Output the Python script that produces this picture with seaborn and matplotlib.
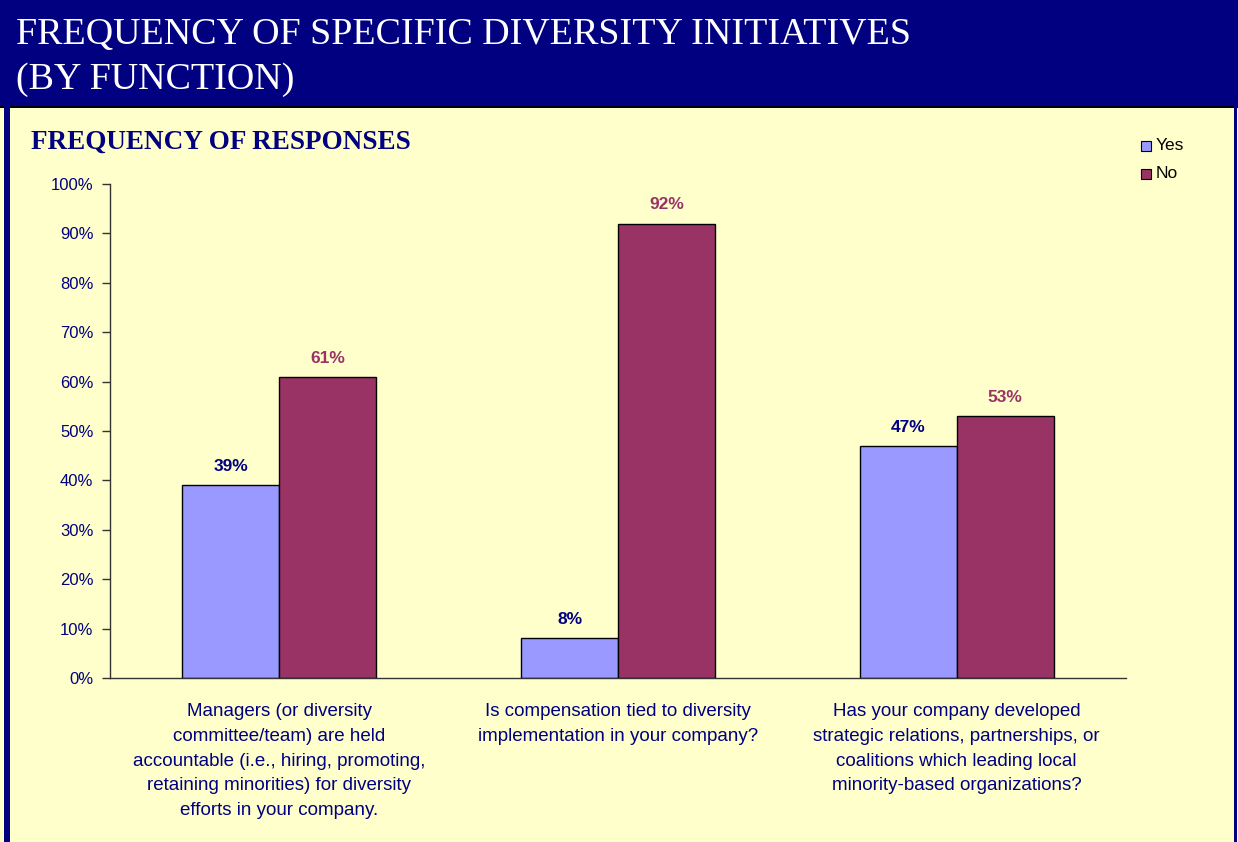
import matplotlib
matplotlib.use("Agg")
import matplotlib.pyplot as plt
from matplotlib.patches import Rectangle
import pandas as pd
import seaborn as sns

questions = [
    "Managers (or diversity\ncommittee/team) are held\naccountable (i.e., hiring, promoting,\nretaining minorities) for diversity\nefforts in your company.",
    "Is compensation tied to diversity\nimplementation in your company?",
    "Has your company developed\nstrategic relations, partnerships, or\ncoalitions which leading local\nminority-based organizations?",
]
yes_pct = [39, 8, 47]
no_pct = [61, 92, 53]
series = ["Yes", "No"]
y_ticks = [0, 10, 20, 30, 40, 50, 60, 70, 80, 90, 100]

NAVY = "#000080"
BG = "#FFFFCC"
palette = {"Yes": "#9999FF", "No": "#993366"}
label_colors = {"Yes": NAVY, "No": "#993366"}

df = pd.DataFrame({
    "question": questions * 2,
    "response": ["Yes"] * 3 + ["No"] * 3,
    "pct": yes_pct + no_pct,
})

sns.set_theme(style="white")
plt.rcParams["font.family"] = ["Liberation Sans", "DejaVu Sans"]

fig = plt.figure(figsize=(12.38, 8.42), dpi=100, facecolor=BG)

# header band and page frame
fig.patches.append(Rectangle((0, 1 - 107 / 842), 1, 107 / 842, transform=fig.transFigure,
                             facecolor=NAVY, edgecolor="none", zorder=0))
fig.patches.append(Rectangle((0, 1 - 108 / 842), 1, 1.6 / 842, transform=fig.transFigure,
                             facecolor="black", edgecolor="none", zorder=1))
fig.patches.append(Rectangle((4 / 1238, 0), 6 / 1238, 1, transform=fig.transFigure,
                             facecolor=NAVY, edgecolor="none", zorder=1))
fig.patches.append(Rectangle((1234 / 1238, 0), 3 / 1238, 1, transform=fig.transFigure,
                             facecolor=NAVY, edgecolor="none", zorder=1))

serif = ["Liberation Serif", "DejaVu Serif"]
fig.text(16 / 1238, 1 - 35 / 842, "FREQUENCY OF SPECIFIC DIVERSITY INITIATIVES",
         color="white", fontsize=27.4, family=serif, va="center", ha="left")
fig.text(16 / 1238, 1 - 80 / 842, "(BY FUNCTION)",
         color="white", fontsize=27.4, family=serif, va="center", ha="left")
fig.text(31 / 1238, 1 - 142 / 842, "FREQUENCY OF RESPONSES",
         color=NAVY, fontsize=19.5, fontweight="bold", family=serif,
         va="center", ha="left")

ax = fig.add_axes([110 / 1238, 1 - 678 / 842, (1126 - 110) / 1238, (678 - 184) / 842])
ax.set_facecolor(BG)

sns.barplot(data=df, x="question", y="pct", hue="response", hue_order=series,
            palette=palette, width=0.572, edgecolor="black", linewidth=1.0,
            saturation=1, ax=ax, legend=False)

ax.set_ylim(0, 100)
ax.set_xlim(-0.5, 2.5)
ax.set_yticks(y_ticks)
ax.set_yticklabels([f"{v}%" for v in y_ticks], color=NAVY, fontsize=12)
ax.set_xlabel("")
ax.set_ylabel("")
ax.set_xticks(range(len(questions)))
ax.set_xticklabels(questions, color=NAVY, fontsize=13.5, linespacing=1.6)
ax.tick_params(axis="x", which="major", length=0, pad=18)
ax.set_xticks([-0.5, 0.5, 1.5, 2.5], minor=True)
ax.tick_params(axis="x", which="minor", length=6, width=1, color="#333333", direction="out")
ax.tick_params(axis="y", length=6, width=1, color="#333333", direction="out", pad=6, left=True)
for side in ["top", "right"]:
    ax.spines[side].set_visible(False)
for side in ["left", "bottom"]:
    ax.spines[side].set_color("#333333")
    ax.spines[side].set_linewidth(1.0)
ax.grid(False)

for container, name in zip(ax.containers, series):
    ax.bar_label(container, labels=[f"{v:.0f}%" for v in container.datavalues],
                 padding=8, color=label_colors[name], fontsize=12.5, fontweight="bold")

# legend
for i, name in enumerate(series):
    y = 1 - (146 + 28 * i) / 842
    fig.patches.append(Rectangle((1141 / 1238, y - 5 / 842), 10 / 1238, 10 / 842,
                                 transform=fig.transFigure, facecolor=palette[name],
                                 edgecolor="black", linewidth=0.8, zorder=3))
    fig.text(1156 / 1238, y, name, color="black", fontsize=12.5, va="center", ha="left")

fig.savefig("out.png", dpi=100, facecolor=BG)
